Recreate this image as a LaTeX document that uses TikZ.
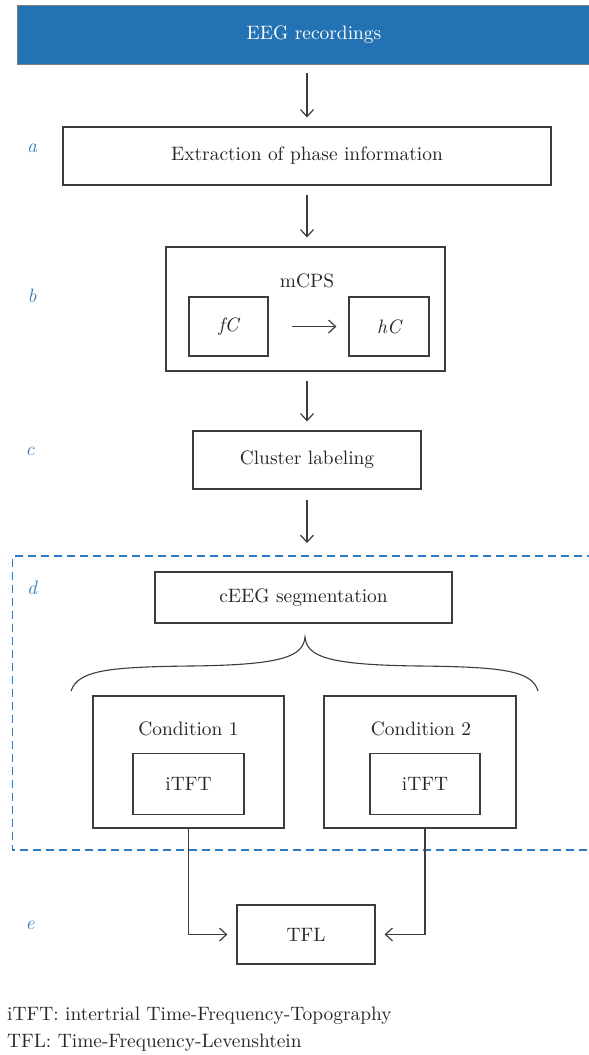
\documentclass[tikz,border=0pt]{standalone}
\usepackage{fontspec}
\setmainfont{lmroman10}[Extension=.otf, UprightFont=*-regular, ItalicFont=*-italic]
\usetikzlibrary{arrows.meta}
\definecolor{barblue}{RGB}{35,114,180}
\definecolor{dashblue}{RGB}{42,125,196}
\definecolor{lblblue}{RGB}{58,125,190}
\definecolor{ink}{RGB}{60,60,60}
\definecolor{txt}{RGB}{38,38,38}
\begin{document}
\begin{tikzpicture}[x=1pt,y=-1pt,
  every node/.style={font=\fontsize{19.4}{23}\selectfont, text=txt},
  box/.style={draw=ink, line width=1.2pt, fill=white, inner sep=0pt},
  steplabel/.style={text=lblblue, font=\fontsize{19.4}{23}\selectfont\itshape},
  arr/.style={draw=ink, line width=1.2pt, -{Straight Barb[length=7pt,width=13pt,line width=1.2pt]}},
  gap/.style={shorten <=9pt, shorten >=9pt}]
\useasboundingbox (0,0) rectangle (589,1055);

% header bar
\node[box, draw=gray, line width=0.8pt, fill=barblue, minimum width=578pt, minimum height=59pt] (bar) at (306,34.5) {};
\node[text=white] (bartxt) at (314,35) {EEG recordings};

% processing steps
\node[box, minimum width=488pt, minimum height=58pt] (a) at (307,156) {Extraction of phase information};
\node[box, minimum width=279pt, minimum height=124pt] (b) at (305.5,309) {};
\node (mcps) at (307,281) {mCPS};
\node[box, minimum width=79pt, minimum height=59pt] (fc) at (228.5,326.5) {\itshape fC};
\node[box, minimum width=80pt, minimum height=59pt] (hc) at (389,326.5) {\itshape hC};
\node[box, minimum width=228pt, minimum height=58pt] (c) at (307,460) {Cluster labeling};

% segmentation block
\draw[dashblue, line width=1.2pt, dash pattern=on 8pt off 5pt] (595,556) -- (12.5,556) -- (12.5,850) -- (595,850);
\node[box, minimum width=297pt, minimum height=51pt] (seg) at (303.5,597.5) {cEEG segmentation};
\draw[ink, line width=1.1pt] (71,691) .. controls (78,670) and (110,667) .. (190,666)
  .. controls (285,665) and (303,656) .. (305,637)
  .. controls (307,656) and (325,665) .. (420,666)
  .. controls (500,667) and (532,670) .. (538,691);
\node[box, minimum width=191pt, minimum height=132pt] (c1) at (188.5,762) {};
\node (c1txt) at (188.5,729) {Condition 1};
\node[box, minimum width=111pt, minimum height=61pt] (it1) at (188.5,784) {iTFT};
\node[box, minimum width=192pt, minimum height=132pt] (c2) at (420,762) {};
\node (c2txt) at (421,729) {Condition 2};
\node[box, minimum width=110pt, minimum height=61pt] (it2) at (425,784) {iTFT};

% final measure
\node[box, minimum width=138pt, minimum height=59pt] (tfl) at (306,934.5) {TFL};

% step letters
\node[steplabel] (la) at (32,148) {a};
\node[steplabel] (lb) at (32,296) {b};
\node[steplabel] (lc) at (30,451) {c};
\node[steplabel] (ld) at (32,588) {d};
\node[steplabel] (le) at (30,925) {e};

% connectors
\coordinate (dtop) at (307,556);
\draw[arr, gap] (a.north |- bar.south) -- (a.north);
\draw[arr, gap] (a.south) -- (a.south |- b.north);
\draw[arr, shorten <=23pt, shorten >=12pt] (fc.east) -- (hc.east -| hc.west);
\draw[arr, gap] (c.north |- b.south) -- (c.north);
\draw[arr, shorten <=10pt, shorten >=13pt] (c.south) -- (dtop);
\draw[arr, shorten >=9pt] (c1.south) |- (tfl.west);
\draw[arr, shorten >=9pt] (it2.south |- c2.south) |- (tfl.east);

% legend
\node[anchor=base west, inner sep=0pt] (leg1) at (7,1020) {iTFT: intertrial Time-Frequency-Topography};
\node[anchor=base west, inner sep=0pt] (leg2) at (7,1047) {TFL: Time-Frequency-Levenshtein};
\end{tikzpicture}
\end{document}
